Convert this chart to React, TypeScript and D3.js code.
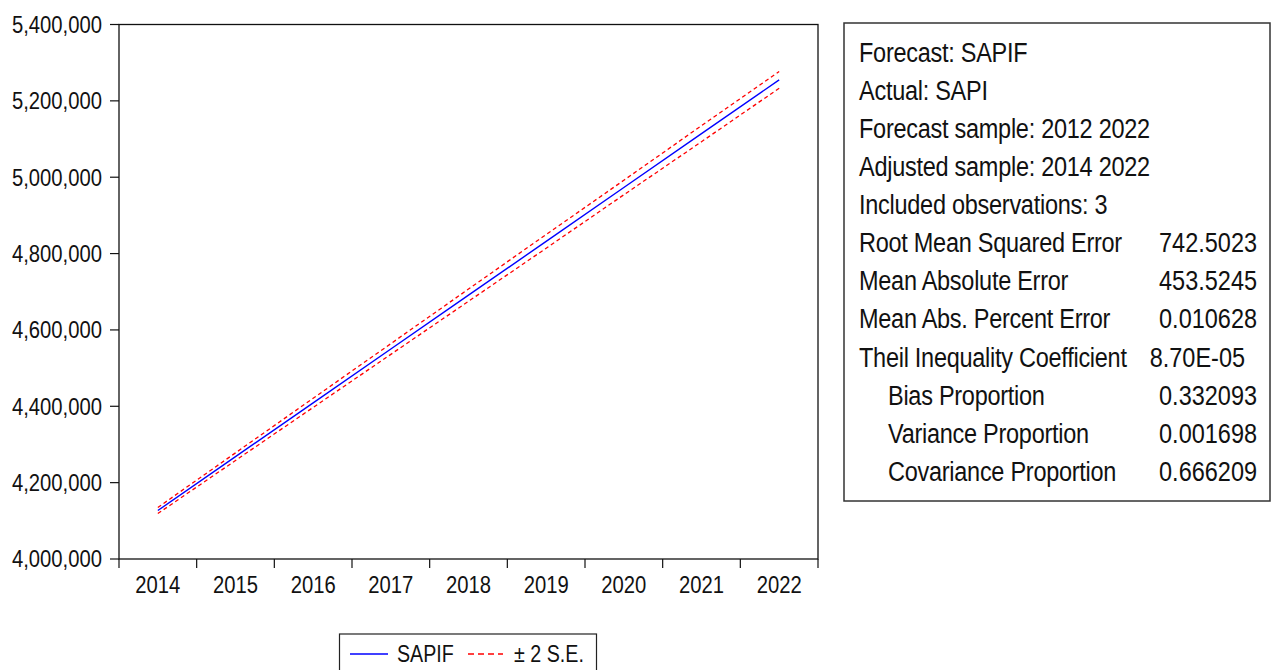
import React from "react";
import * as d3 from "d3";

const years = ["2014", "2015", "2016", "2017", "2018", "2019", "2020", "2021", "2022"];

// SAPIF forecast and its +/- 2 S.E. band
const sapif = [4127000, 4268000, 4409000, 4550000, 4691000, 4832000, 4973000, 5114000, 5255000];
const upperSE = [4135000, 4278000, 4421000, 4564000, 4707000, 4850000, 4992000, 5135000, 5277000];
const lowerSE = [4119000, 4258000, 4397000, 4536000, 4675000, 4814000, 4954000, 5093000, 5233000];

const statLabels = [
    "Forecast: SAPIF",
    "Actual: SAPI",
    "Forecast sample: 2012 2022",
    "Adjusted sample: 2014 2022",
    "Included observations: 3",
    "Root Mean Squared Error",
    "Mean Absolute Error",
    "Mean Abs. Percent Error",
    "Theil Inequality Coefficient",
    "Bias Proportion",
    "Variance Proportion",
    "Covariance Proportion",
];
const statValues = ["", "", "", "", "", "742.5023", "453.5245", "0.010628", "8.70E-05", "0.332093", "0.001698", "0.666209"];
const indentedRows = new Set([9, 10, 11]);

const FONT = "'Liberation Sans', Arial, Helvetica, sans-serif";

const W = 1271;
const H = 670;
const plot = { left: 119, right: 818, top: 24.5, bottom: 559 };

// narrow text, EViews style: squeeze glyphs horizontally around the anchor
const NText = ({ x, y, size, sx, anchor = "start", dy = "0", ls = 0, children }: any) => (
    <g transform={`translate(${x},${y}) scale(${sx},1)`}>
        <text x={0} y={0} dy={dy} textAnchor={anchor} fontSize={size} letterSpacing={ls} fill="#111">
            {children}
        </text>
    </g>
);

const App = () => {
    const step = (plot.right - plot.left) / years.length;
    const x = d3
        .scalePoint<string>()
        .domain(years)
        .range([plot.left + step / 2, plot.right - step / 2]);
    const y = d3.scaleLinear().domain([4000000, 5400000]).range([plot.bottom, plot.top]);

    const line = d3
        .line<number>()
        .x((_d, i) => x(years[i]) as number)
        .y((d) => y(d));

    const yTicks = y.ticks(7);
    const fmt = d3.format(",");
    const bounds = d3.range(years.length + 1).map((i) => plot.left + i * step);

    const box = { left: 844, right: 1270, top: 23, bottom: 501 };
    const rowY = (i: number) => 52 + i * 38.1;

    return (
        <svg
            width={W}
            height={H}
            style={{ position: "absolute", left: 0, top: 0, background: "#fff" }}
            fontFamily={FONT}
        >
            <rect x={0} y={0} width={W} height={H} fill="#fff" />

            {/* plot frame */}
            <rect
                x={plot.left}
                y={plot.top}
                width={plot.right - plot.left}
                height={plot.bottom - plot.top}
                fill="none"
                stroke="#111"
                strokeWidth={1.3}
            />

            {/* y axis */}
            {yTicks.map((t) => (
                <g key={t}>
                    <line x1={plot.left - 9} x2={plot.left} y1={y(t)} y2={y(t)} stroke="#111" strokeWidth={1.2} />
                    <NText x={102} y={y(t)} dy="0.36em" anchor="end" size={23} sx={0.88}>
                        {fmt(t)}
                    </NText>
                </g>
            ))}

            {/* x axis */}
            {bounds.map((b, i) => (
                <line key={i} x1={b} x2={b} y1={plot.bottom} y2={plot.bottom + 9} stroke="#111" strokeWidth={1.2} />
            ))}
            {years.map((yr) => (
                <NText key={yr} x={x(yr)} y={593} anchor="middle" size={23} sx={0.88}>
                    {yr}
                </NText>
            ))}

            {/* series */}
            <path d={line(upperSE) || ""} fill="none" stroke="#ff0000" strokeWidth={1.3} strokeDasharray="4,3" />
            <path d={line(lowerSE) || ""} fill="none" stroke="#ff0000" strokeWidth={1.3} strokeDasharray="4,3" />
            <path d={line(sapif) || ""} fill="none" stroke="#0000ff" strokeWidth={1.4} />

            {/* legend */}
            <rect x={339.5} y={634} width={257} height={50} fill="#fff" stroke="#222" strokeWidth={1.2} />
            <line x1={350} x2={388} y1={654} y2={654} stroke="#0000ff" strokeWidth={1.3} />
            <NText x={397} y={662} size={24} sx={0.82}>
                SAPIF
            </NText>
            <line x1={468} x2={503} y1={654} y2={654} stroke="#ff0000" strokeWidth={1.3} strokeDasharray="6,4" />
            <NText x={514} y={662} size={24} sx={0.82}>
                ± 2 S.E.
            </NText>

            {/* statistics box */}
            <rect
                x={box.left}
                y={box.top}
                width={box.right - box.left}
                height={box.bottom - box.top}
                fill="#fff"
                stroke="#333"
                strokeWidth={1.5}
            />
            {statLabels.map((lab, i) => (
                <g key={lab}>
                    <NText
                        x={indentedRows.has(i) ? 888 : 859}
                        y={rowY(i)}
                        dy="0.36em"
                        size={27}
                        sx={0.87}
                        ls={-0.3}
                    >
                        {lab}
                    </NText>
                    {statValues[i] && (
                        <NText
                            x={statValues[i].includes("E") ? 1245 : 1257}
                            y={rowY(i)}
                            dy="0.36em"
                            anchor="end"
                            size={27}
                            sx={0.87}
                        >
                            {statValues[i]}
                        </NText>
                    )}
                </g>
            ))}
        </svg>
    );
};

export default App;
